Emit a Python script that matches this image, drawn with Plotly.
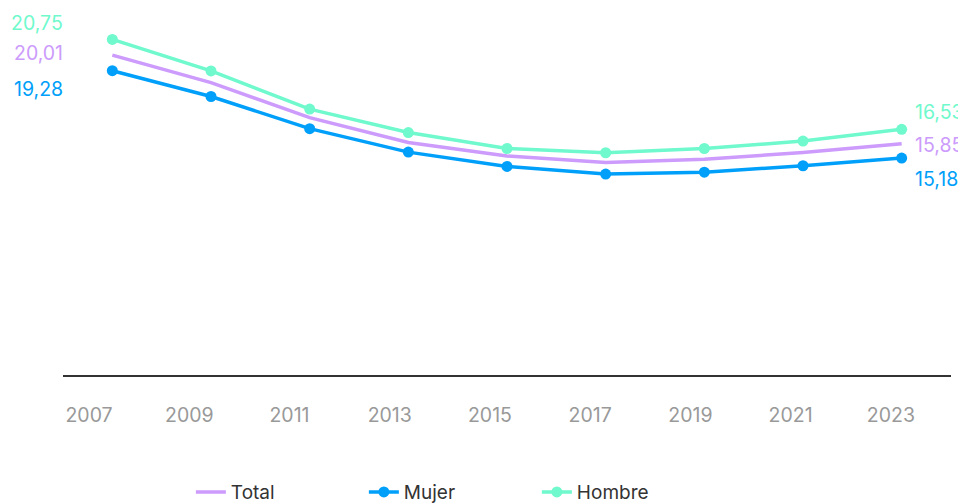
import plotly.graph_objects as go

years = [2007, 2009, 2011, 2013, 2015, 2017, 2019, 2021, 2023]
tick_labels = [str(y) for y in years]
total = [20.01, 18.72, 17.08, 15.91, 15.28, 14.97, 15.13, 15.44, 15.85]
mujer = [19.28, 18.07, 16.56, 15.46, 14.79, 14.43, 14.52, 14.82, 15.18]
hombre = [20.75, 19.27, 17.48, 16.38, 15.63, 15.43, 15.63, 15.98, 16.53]

C_TOTAL = "#CC9BFB"
C_MUJER = "#00A0FA"
C_HOMBRE = "#6FF9CC"
FONT = "Inter"

fig = go.Figure()
fig.add_trace(go.Scatter(x=years, y=total, name="Total", mode="lines",
                         line=dict(color=C_TOTAL, width=3.5)))
fig.add_trace(go.Scatter(x=years, y=mujer, name="Mujer", mode="lines+markers",
                         line=dict(color=C_MUJER, width=3.5),
                         marker=dict(size=11, color=C_MUJER)))
fig.add_trace(go.Scatter(x=years, y=hombre, name="Hombre", mode="lines+markers",
                         line=dict(color=C_HOMBRE, width=3.5),
                         marker=dict(size=11, color=C_HOMBRE)))

def fmt(v):
    return f"{v:.2f}".replace(".", ",")

# endpoint labels
left_specs = [(hombre, C_HOMBRE, 16), (total, C_TOTAL, 2), (mujer, C_MUJER, -18)]
right_specs = [(hombre, C_HOMBRE, 17), (total, C_TOTAL, -1), (mujer, C_MUJER, -21)]
for series, col, ys in left_specs:
    fig.add_annotation(x=years[0], y=series[0], text=fmt(series[0]), showarrow=False,
                       xanchor="right", yanchor="middle", xshift=-47, yshift=ys,
                       font=dict(family=FONT, size=19.5, color=col))
for series, col, ys in right_specs:
    fig.add_annotation(x=years[-1], y=series[-1], text=fmt(series[-1]), showarrow=False,
                       xanchor="left", yanchor="middle", xshift=11, yshift=ys,
                       font=dict(family=FONT, size=19.5, color=col))

fig.update_layout(
    width=958, height=496,
    margin=dict(l=55, r=15, t=2, b=129, autoexpand=False),
    paper_bgcolor="white", plot_bgcolor="white",
    font=dict(family=FONT, size=19, color="#333333"),
    xaxis=dict(range=[2006, 2024], showgrid=False, zeroline=False,
               showline=True, linecolor="#333333", linewidth=2,
               showticklabels=False, ticks=""),
    xaxis2=dict(overlaying="x", anchor="y", side="bottom",
                range=[2006.48, 2024.2], tickvals=years, ticktext=tick_labels,
                showgrid=False, zeroline=False, showline=False, ticks="",
                ticklabelstandoff=26,
                tickfont=dict(family=FONT, size=19.5, color="#999999")),
    yaxis=dict(range=[5, 22.13], showgrid=False, zeroline=False,
               showticklabels=False, showline=False, ticks=""),
    legend=dict(orientation="h", x=0.144, xanchor="left",
                yref="container", y=0.024, yanchor="middle",
                entrywidth=128, entrywidthmode="pixels",
                font=dict(family=FONT, size=19, color="#333333")),
    showlegend=True,
)
# invisible helper trace so the label axis is drawn
fig.add_trace(go.Scatter(x=[years[0]], y=[None], xaxis="x2", showlegend=False,
                         hoverinfo="skip", mode="markers"))

fig.write_html("out.html")
